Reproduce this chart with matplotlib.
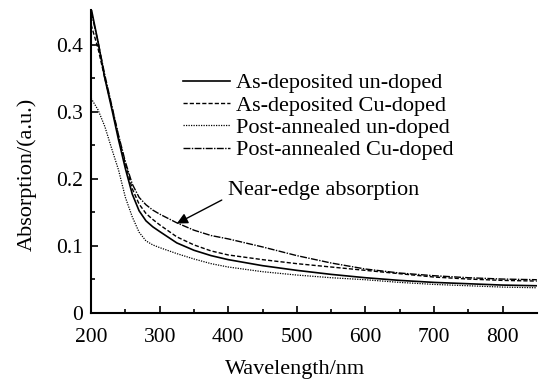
import numpy as np
import matplotlib
matplotlib.use('Agg')
import matplotlib.pyplot as plt

plt.rcParams['font.family'] = ['Liberation Serif', 'DejaVu Serif']

# Wavelength (nm) and absorption readings for each sample
wavelength = [200, 210, 220, 230, 240, 250, 260, 270, 280, 290, 300, 325, 350,
              375, 400, 450, 500, 550, 600, 650, 700, 750, 800, 850]
asdep_undoped = [0.455, 0.405, 0.35, 0.305, 0.258, 0.215, 0.177, 0.152, 0.137,
                 0.128, 0.121, 0.104, 0.093, 0.085, 0.079, 0.070, 0.063, 0.057,
                 0.052, 0.048, 0.045, 0.043, 0.041, 0.040]
asdep_cu = [0.43, 0.395, 0.35, 0.308, 0.263, 0.222, 0.185, 0.162, 0.148, 0.139,
            0.131, 0.113, 0.101, 0.092, 0.086, 0.079, 0.073, 0.068, 0.063,
            0.058, 0.053, 0.050, 0.048, 0.047]
post_undoped = [0.32, 0.303, 0.278, 0.245, 0.213, 0.172, 0.143, 0.12, 0.107,
                0.101, 0.097, 0.088, 0.080, 0.073, 0.068, 0.061, 0.056, 0.052,
                0.049, 0.045, 0.042, 0.040, 0.038, 0.037]
post_cu = [0.45, 0.405, 0.355, 0.31, 0.265, 0.225, 0.192, 0.172, 0.161, 0.153,
           0.147, 0.134, 0.123, 0.115, 0.110, 0.098, 0.085, 0.074, 0.065,
           0.059, 0.055, 0.052, 0.050, 0.049]

fig = plt.figure(figsize=(5.39, 3.83), dpi=100)
ax = fig.add_axes([0.169, 0.184, 0.827, 0.79])

ax.plot(wavelength, asdep_undoped, color='black', lw=1.2, ls='-',
        label='As-deposited un-doped')
ax.plot(wavelength, asdep_cu, color='black', lw=1.0, ls=(0, (3, 1.5)),
        label='As-deposited Cu-doped')
ax.plot(wavelength, post_undoped, color='black', lw=0.9, ls=(0, (1, 1)),
        label='Post-annealed un-doped')
ax.plot(wavelength, post_cu, color='black', lw=1.0, ls=(0, (5, 1, 1, 1)),
        label='Post-annealed Cu-doped')

ax.set_xlim(200, 850)
ax.set_ylim(0, 0.452)
ax.set_xticks([200, 300, 400, 500, 600, 700, 800])
ax.set_xticks(np.arange(250, 850, 100), minor=True)
ax.set_yticks([0, 0.1, 0.2, 0.3, 0.4])
ax.set_yticklabels(['0', '0.1', '0.2', '0.3', '0.4'])
ax.set_yticks([0.05, 0.15, 0.25, 0.35], minor=True)
ax.tick_params(which='both', direction='in', labelsize=15.5, width=1.2)
ax.tick_params(which='major', length=5)
ax.tick_params(which='minor', length=3)
ax.tick_params(axis='x', which='major', pad=11)
ax.tick_params(axis='y', which='major', pad=6)
ax.spines['top'].set_visible(False)
ax.spines['right'].set_visible(False)
for s in ['left', 'bottom']:
    ax.spines[s].set_linewidth(1.5)

ax.set_xlabel('Wavelength/nm', fontsize=16)
ax.set_ylabel('Absorption/(a.u.)', fontsize=16)
ax.xaxis.set_label_coords(0.457, -0.156)
ax.yaxis.set_label_coords(-0.121, 0.455)

ax.legend(loc='upper left', bbox_to_anchor=(0.206, 0.792), frameon=False,
          fontsize=16, handlelength=2.1, handletextpad=0.3, labelspacing=0.08,
          borderpad=0, borderaxespad=0)

ax.annotate('Near-edge absorption', xy=(325, 0.133), xytext=(400, 0.183),
            fontsize=16, va='center', ha='left',
            arrowprops=dict(arrowstyle='-|>', color='black', lw=1.0,
                            relpos=(0, 0.15), shrinkA=3, shrinkB=0))

fig.savefig('out.png', dpi=100)
